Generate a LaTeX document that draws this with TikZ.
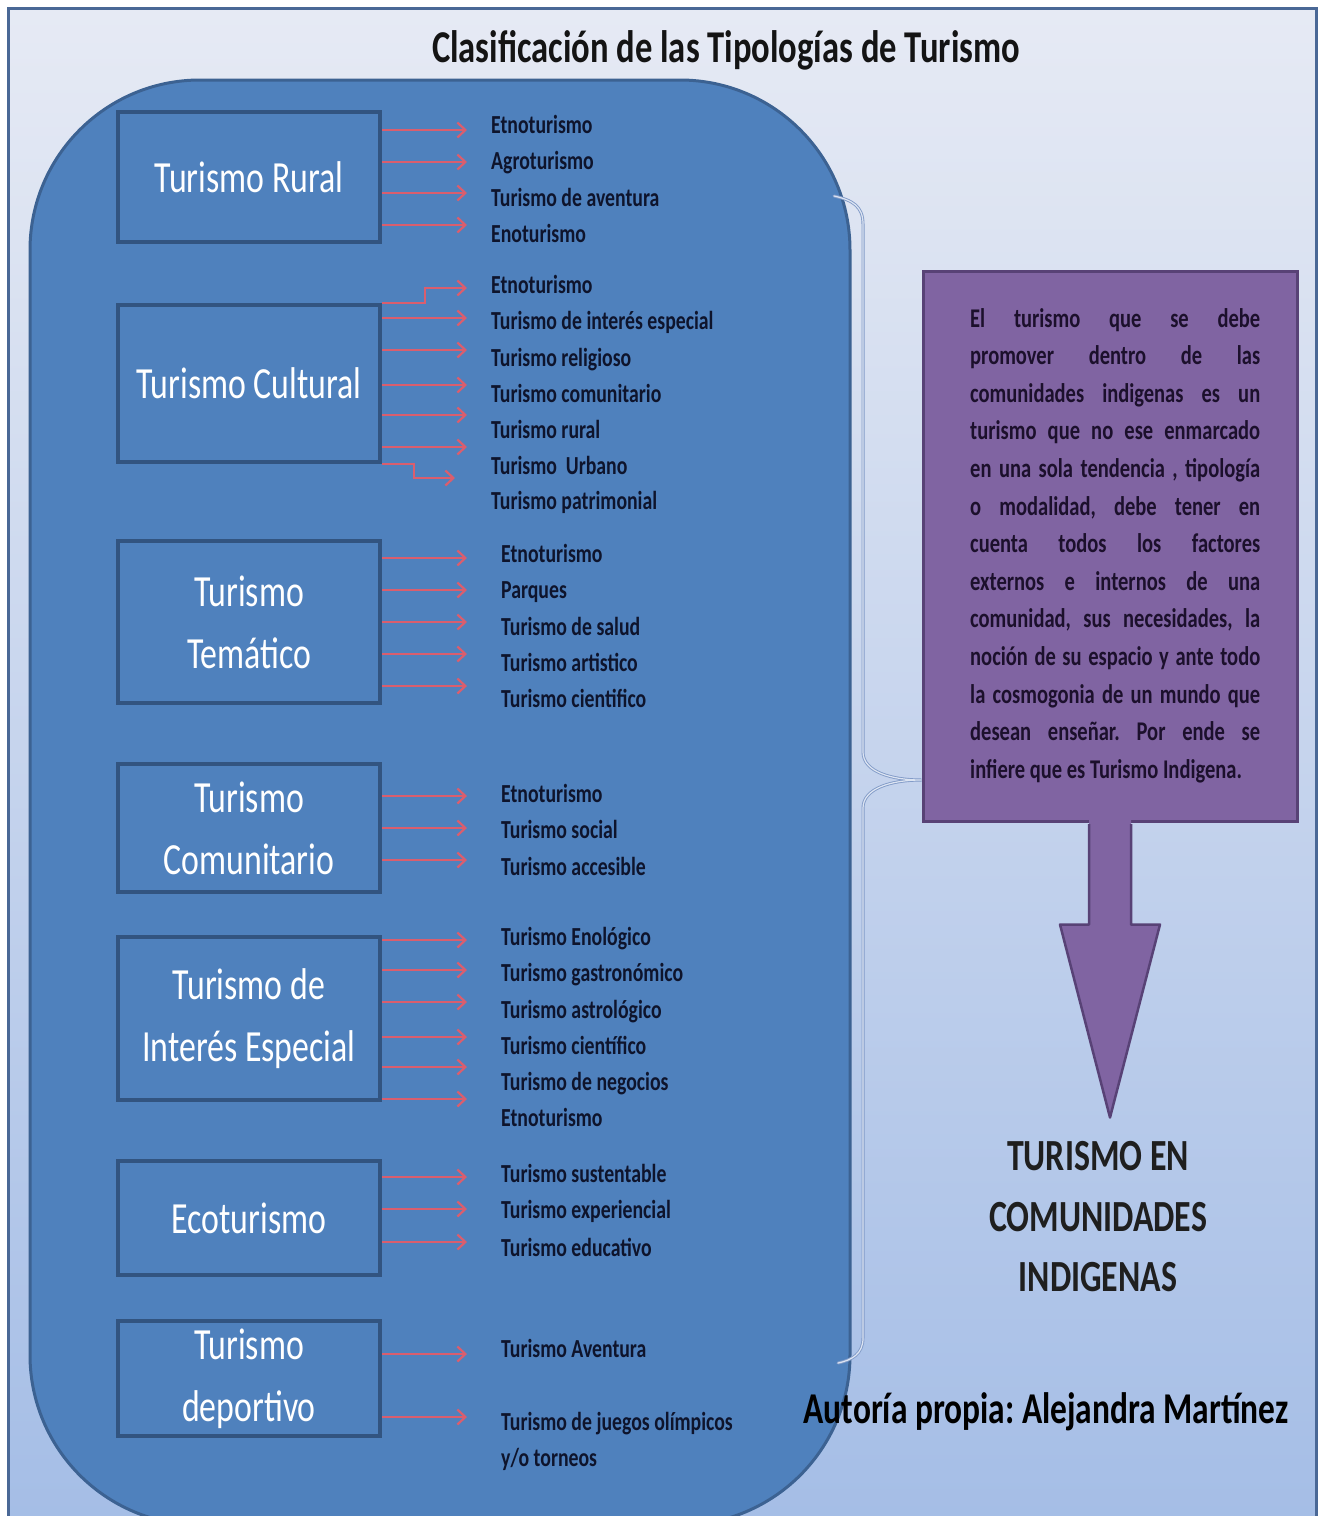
\documentclass[tikz,border=0pt]{standalone}
\usepackage{fontspec}
\setmainfont{Carlito}
\newfontfamily\cf[FakeStretch=0.76]{Carlito}
\usetikzlibrary{arrows.meta,calc}
\definecolor{bgtop}{RGB}{230,234,244}
\definecolor{bgbot}{RGB}{164,189,230}
\definecolor{framec}{RGB}{74,104,150}
\definecolor{bigblue}{RGB}{79,129,189}
\definecolor{bigedge}{RGB}{60,98,146}
\definecolor{boxedge}{RGB}{50,84,128}
\definecolor{redarr}{RGB}{218,94,110}
\definecolor{navy}{RGB}{14,20,44}
\definecolor{purp}{RGB}{128,100,162}
\definecolor{purpedge}{RGB}{88,66,118}
\definecolor{bracec}{RGB}{130,155,200}
\definecolor{bracein}{RGB}{220,228,242}
\definecolor{ptext}{RGB}{28,16,44}
\newcommand\tipo[6]{%
  \node[itm] (#1) at (#4,{#5+9}) {#6};
  \coordinate (#1a) at (467,#3);
  \draw[rarrow] (#2.east |- #1a) -- (#1a);}
\frenchspacing
\begin{document}
\begin{tikzpicture}[x=1pt,y=-1pt,
  cat/.style={draw=boxedge,line width=3.5pt,fill=bigblue,text=white,minimum width=262pt,
    align=center,inner sep=0pt,font=\cf\fontsize{44.5}{62}\selectfont},
  itm/.style={anchor=base west,inner sep=0pt,text=navy,font=\cf\bfseries\fontsize{26}{36}\selectfont},
  rarrow/.style={draw=redarr,line width=2.2pt,-{Straight Barb[length=8pt,width=15pt]}},
  ptxt/.style={anchor=base west,inner sep=0pt,text=ptext,font=\cf\bfseries\fontsize{27}{37.6}\selectfont},
  bigtxt/.style={inner sep=0pt,text=black!88,align=center,font=\cf\bfseries\fontsize{44.5}{60.5}\selectfont}]
\useasboundingbox (0,0) rectangle (1321,1516);
\begin{scope}
\clip (0,0) rectangle (1321,1516);
\fill[white] (0,0) rectangle (1321,1516);
\shade[top color=bgtop,bottom color=bgbot,draw=framec,line width=3pt] (8,8) rectangle (1316,1540);
\draw[fill=bigblue,draw=bigedge,line width=3pt,rounded corners=170pt] (30,80) rectangle (850,1525);
\end{scope}

% title
\node[inner sep=0pt,text=black!92,font=\cf\bfseries\fontsize{45.5}{50}\selectfont] (title) at (726,50) {Clasificación de las Tipologías de Turismo};

% category boxes
\node[cat,minimum height=130pt] (rural) at (249,177) {Turismo Rural};
\node[cat,minimum height=157pt] (cult) at (249,383.5) {Turismo Cultural};
\node[cat,minimum height=162pt] (tema) at (249,622) {Turismo\\Temático};
\node[cat,minimum height=128pt] (comu) at (249,828) {Turismo\\Comunitario};
\node[cat,minimum height=163pt] (inte) at (249,1018.5) {Turismo de\\Interés Especial};
\node[cat,minimum height=114pt] (eco) at (249,1218) {Ecoturismo};
\node[cat,minimum height=115pt] (depo) at (249,1378.5) {Turismo\\deportivo};

% Turismo Rural
\tipo{r1}{rural}{130}{491}{124}{Etnoturismo}
\tipo{r2}{rural}{162}{491}{160}{Agroturismo}
\tipo{r3}{rural}{193}{491}{197}{Turismo de aventura}
\tipo{r4}{rural}{225}{491}{233}{Enoturismo}

% Turismo Cultural
\node[itm] (c1) at (491,{284+9}) {Etnoturismo};
\coordinate (c1a) at (467,288);
\draw[rarrow] (cult.north east) -- ++(43,0) |- (c1a);
\tipo{c2}{cult}{318}{491}{320}{Turismo de interés especial}
\tipo{c3}{cult}{350}{491}{357}{Turismo religioso}
\tipo{c4}{cult}{385}{491}{393}{Turismo comunitario}
\tipo{c5}{cult}{415}{491}{429}{Turismo rural}
\tipo{c6}{cult}{447}{491}{465}{Turismo\ \ Urbano}
\node[itm] (c7) at (491,{500+9}) {Turismo patrimonial};
\coordinate (c7a) at (455,478);
\draw[rarrow] (cult.south east) -- ++(32,0) |- (c7a);

% Turismo Tematico
\tipo{t1}{tema}{558}{501}{553}{Etnoturismo}
\tipo{t2}{tema}{590}{501}{589}{Parques}
\tipo{t3}{tema}{622}{501}{626}{Turismo de salud}
\tipo{t4}{tema}{654}{501}{662}{Turismo artistico}
\tipo{t5}{tema}{686}{501}{698}{Turismo cientifico}

% Turismo Comunitario
\tipo{m1}{comu}{796}{501}{793}{Etnoturismo}
\tipo{m2}{comu}{828}{501}{829}{Turismo social}
\tipo{m3}{comu}{860}{501}{866}{Turismo accesible}

% Turismo de Interes Especial
\tipo{i1}{inte}{940}{501}{936}{Turismo Enológico}
\tipo{i2}{inte}{970}{501}{972}{Turismo gastronómico}
\tipo{i3}{inte}{1002}{501}{1009}{Turismo astrológico}
\tipo{i4}{inte}{1037}{501}{1045}{Turismo científico}
\tipo{i5}{inte}{1067}{501}{1081}{Turismo de negocios}
\tipo{i6}{inte}{1099}{501}{1117}{Etnoturismo}

% Ecoturismo
\tipo{e1}{eco}{1177}{501}{1173}{Turismo sustentable}
\tipo{e2}{eco}{1209}{501}{1209}{Turismo experiencial}
\tipo{e3}{eco}{1242}{501}{1247}{Turismo educativo}

% Turismo deportivo
\tipo{d1}{depo}{1354}{501}{1348}{Turismo Aventura}
\tipo{d2}{depo}{1417}{501}{1421}{Turismo de juegos olímpicos}
\node[itm] (d2b) at (501,{1457+9}) {y/o torneos};

% purple description box
\node[draw=purpedge,fill=purp,line width=3pt,minimum width=374pt,minimum height=550pt,inner sep=0pt] (desc) at (1110,546) {};
\fill[purp] ($(desc.south)+(-21,-6)$) -- ($(desc.south)+(-21,102)$) -- ($(desc.south)+(-50,102)$) -- ($(desc.south)+(0,295)$) -- ($(desc.south)+(50,102)$) -- ($(desc.south)+(21,102)$) -- ($(desc.south)+(21,-6)$) -- cycle;
\draw[purpedge,line width=2.5pt,line join=round] ($(desc.south)+(-21,1.5)$) -- ($(desc.south)+(-21,102)$) -- ($(desc.south)+(-50,102)$) -- ($(desc.south)+(0,295)$) coordinate (tip) -- ($(desc.south)+(50,102)$) -- ($(desc.south)+(21,102)$) -- ($(desc.south)+(21,1.5)$);

\foreach \l [count=\i] in {{El turismo que se debe},{promover dentro de las},{comunidades indigenas es un},{turismo que no ese enmarcado},{en una sola tendencia , tipología},{o modalidad, debe tener en},{cuenta todos los factores},{externos e internos de una},{comunidad, sus necesidades, la},{noción de su espacio y ante todo},{la cosmogonia de un mundo que},{desean enseñar. Por ende se}}
  \node[ptxt] (p\i) at (970,{327+37.6*(\i-1)}) {\makebox[290pt][s]{\l}};
\node[ptxt] (p13) at (970,{327+37.6*12}) {infiere que es Turismo Indigena.};

% brace
\coordinate (tipy) at (0,780);
\coordinate (btip) at (desc.west |- tipy);
\draw[draw=bracec,double=bracein,line width=0.9pt,double distance=1.2pt,line cap=round]
  (834,196) .. controls (852,200) and (863,206) .. (863,224) -- (863,752)
  .. controls (863,772) and (892,780) .. (btip)
  .. controls (892,780) and (863,788) .. (863,808) -- (863,1338)
  .. controls (863,1354) and (852,1360) .. (838,1363);

% result text
\node[bigtxt] (res) at (1098,1217) {TURISMO EN\\COMUNIDADES\\INDIGENAS};
\node[inner sep=0pt,text=black,font=\cf\bfseries\fontsize{44}{48}\selectfont] (aut) at (1046,1412) {Autoría propia: Alejandra Martínez};
\end{tikzpicture}
\end{document}
